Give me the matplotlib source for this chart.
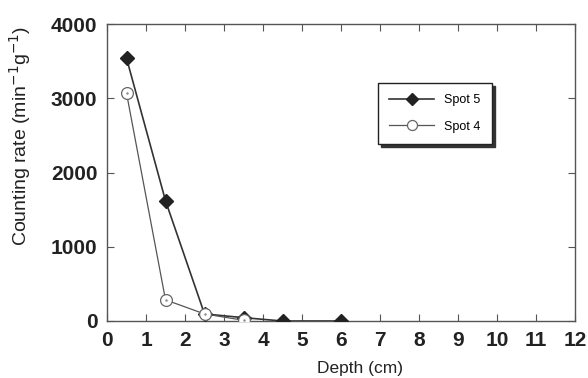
import matplotlib.pyplot as plt
import numpy as np

plt.rcParams['font.family'] = ['Liberation Sans', 'DejaVu Sans']
plt.rcParams['mathtext.fontset'] = 'custom'
plt.rcParams['mathtext.rm'] = 'Liberation Sans'

depth5 = [0.5, 1.5, 2.5, 3.5, 4.5, 6.0]
spot5 = [3540, 1620, 95, 45, 0, 0]
depth4 = [0.5, 1.5, 2.5, 3.5]
spot4 = [3070, 285, 95, 10]

fig = plt.figure(figsize=(5.88, 3.78), dpi=100)
ax = fig.add_axes([107 / 588, 57 / 378, 468 / 588, 297 / 378])

ax.plot(depth5, spot5, '-', color='#333333', lw=1.2, marker='D', ms=7.5,
        mfc='#222222', mec='#222222', label='Spot 5', zorder=3)
ax.plot(depth4, spot4, '-', color='#555555', lw=0.9, marker='o', ms=8.5,
        mfc='white', mec='#666666', mew=0.9, label='Spot 4', zorder=4)
ax.plot(depth4, spot4, '.', color='#888888', ms=1.5, zorder=5)

ax.set_xlim(0, 12)
ax.set_ylim(0, 4000)
ax.set_xticks(np.arange(0, 13, 1))
ax.set_yticks(np.arange(0, 4001, 1000))
ax.tick_params(direction='in', top=True, right=True, length=5, width=0.8,
               color='#555555', labelsize=15, pad=7)
for lab in ax.get_xticklabels() + ax.get_yticklabels():
    lab.set_fontweight('bold')
    lab.set_color('#222222')
for s in ax.spines.values():
    s.set_color('#555555')
    s.set_linewidth(1.0)

ax.set_xlabel('Depth (cm)', fontsize=12.5, color='#222222')
ax.xaxis.set_label_coords(0.54, -0.135)
ax.set_ylabel(r'Counting rate (min$^{\mathsf{-1}}$g$^{\mathsf{-1}}$)', fontsize=14,
              color='#222222')
ax.yaxis.set_label_coords(-0.158, 0.625)

leg = ax.legend(loc='upper left', bbox_to_anchor=(0.579, 0.801), fontsize=9,
                frameon=True, fancybox=False,
                shadow={'color': '#333333', 'alpha': 1.0}, borderpad=0.9,
                handlelength=3.6, handletextpad=0.8, labelspacing=1.15,
                borderaxespad=0, edgecolor='#222222', markerscale=0.85)
leg.get_frame().set_linewidth(1.0)

fig.savefig('out.png', dpi=100)
